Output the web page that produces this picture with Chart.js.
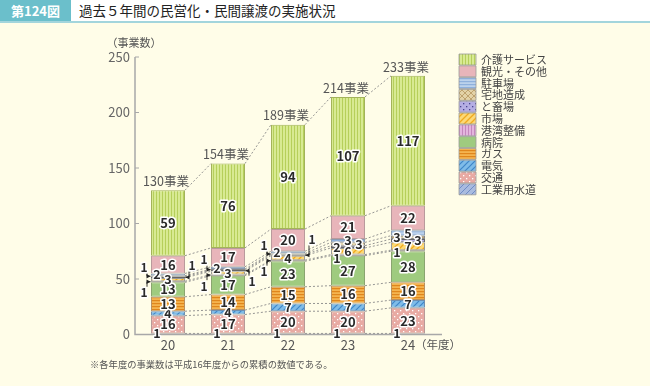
<!DOCTYPE html>
<html><head><meta charset="utf-8">
<script src="https://cdn.jsdelivr.net/npm/chart.js@4.4.0/dist/chart.umd.min.js"></script>
<style>
html,body{margin:0;padding:0;background:#fffde8;width:650px;height:386px;overflow:hidden;font-family:"Noto Sans CJK JP",sans-serif;}
#hdr{position:absolute;left:0;top:0;width:650px;height:21px;background:#ffffff;border-bottom:2px solid #a3d5dc;}
#num{position:absolute;left:0;top:0;width:71px;height:21px;background:#6bbfcb;color:#fff;font-weight:bold;font-size:13px;line-height:21px;text-align:center;}
#ttl{position:absolute;left:79px;top:0;height:21px;line-height:21px;font-size:13.5px;color:#222;}
#note{position:absolute;left:90px;top:357px;font-size:9.3px;color:#555;white-space:nowrap}
#wrap{position:absolute;left:0;top:0;width:650px;height:386px}
</style></head>
<body>
<div id="wrap"><canvas id="c" width="650" height="386"></canvas></div>
<div id="hdr"><div id="num">第124図</div><div id="ttl">過去５年間の民営化・民間譲渡の実施状況</div></div>
<div id="note">※各年度の事業数は平成16年度からの累積の数値である。</div>
<script>
// ---- data ----
const years = ['20','21','22','23','24'];
const seriesNames = ['工業用水道','交通','電気','ガス','病院','港湾整備','市場','と畜場','宅地造成','駐車場','観光・その他','介護サービス'];
const kogyo    = [1,1,1,1,1];
const kotsu    = [16,17,20,20,23];
const denki    = [4,4,7,7,7];
const gas      = [13,14,15,16,16];
const byoin    = [13,17,23,27,28];
const kowan    = [1,1,1,1,1];
const ichiba   = [3,3,4,6,7];
const tochiku  = [1,1,1,2,3];
const takuchi  = [1,1,1,3,3];
const chushajo = [2,2,2,3,5];
const kanko    = [16,17,20,21,22];
const kaigo    = [59,76,94,107,117];
const yTicks   = [0,50,100,150,200,250];
const seriesValues = [kogyo,kotsu,denki,gas,byoin,kowan,ichiba,tochiku,takuchi,chushajo,kanko,kaigo];

const FONT = '"Noto Sans CJK JP", sans-serif';

// ---- patterns (style) ----
function pat(bg, fn){
  const c=document.createElement('canvas'); c.width=6; c.height=6;
  const x=c.getContext('2d'); x.fillStyle=bg; x.fillRect(0,0,6,6); fn(x);
  return x.createPattern(c,'repeat');
}
const vstripe=(fg)=>x=>{x.fillStyle=fg;x.fillRect(0,0,1,6);x.fillRect(3,0,1,6);};
const hstripe=(fg)=>x=>{x.fillStyle=fg;x.fillRect(0,0,6,1.2);x.fillRect(0,3,6,1.2);};
const diag=(fg,w)=>x=>{x.strokeStyle=fg;x.lineWidth=w||1;x.beginPath();
  x.moveTo(-1,7);x.lineTo(7,-1);x.moveTo(-4,4);x.lineTo(4,-4);x.moveTo(2,10);x.lineTo(10,2);x.stroke();};
const cross=(fg)=>x=>{diag(fg,0.8)(x);x.strokeStyle=fg;x.lineWidth=0.8;x.beginPath();
  x.moveTo(-1,-1);x.lineTo(7,7);x.moveTo(-4,2);x.lineTo(4,10);x.moveTo(2,-4);x.lineTo(10,4);x.stroke();};
const dots=(fg)=>x=>{x.fillStyle=fg;x.fillRect(1,1,1.3,1.3);x.fillRect(4,4,1.3,1.3);};

const fills = [
  pat('#a9bbdf', diag('#6f8cc6')),          // 工業用水道
  pat('#e8aaa3', dots('#ffffff')),           // 交通
  pat('#7fbce8', diag('#3f86c8',1.2)),       // 電気
  pat('#f4b450', hstripe('#e0861c')),        // ガス
  '#9fcb7f',                                  // 病院
  pat('#e3b5dd', vstripe('#c587bd')),        // 港湾整備
  pat('#fcd977', diag('#f0a91e',1.3)),       // 市場
  pat('#b5aee3', dots('#4a4490')),           // と畜場
  pat('#e3d2a6', cross('#b5965e')),          // 宅地造成
  pat('#bcd2ec', hstripe('#8eb0dc')),        // 駐車場
  '#e8b5ba',                                  // 観光・その他
  pat('#d8ea93', vstripe('#b6cf5b'))         // 介護サービス
];
const borders = ['#7e7e8e','#b89a98','#6f8fb0','#b99060','#8aa570','#777','#999','#666','#888','#8b9bb0','#b99a9c','#a3b35a'];

const datasets = seriesValues.map((v,i)=>({
  label: seriesNames[i], data: v, backgroundColor: fills[i],
  borderColor: borders[i], borderWidth: 1, borderSkipped: false,
  barPercentage: 34/60, categoryPercentage: 1
}));

// label placement (layout only)
const shifts = {'3-5':[-11,3],'4-5':[-11,2],'3-8':[11,0],'4-8':[-11,0],'3-7':[-11,0],'4-7':[10,0],
                '0-9':[-11,0],'1-9':[-11,0],'2-9':[-11,0]};
const callouts = {'0-5':{s:'L',dy:11},'1-5':{s:'L',dy:11},'2-5':{s:'L',dy:11},
                  '0-8':{s:'L',dy:-9},'1-8':{s:'L',dy:-10},'2-8':{s:'L',dy:-9},
                  '0-7':{s:'R',dy:-12},'1-7':{s:'R',dy:11},'2-7':{s:'R',dy:-16}};

function drawNum(ctx, t, x, y, size){
  ctx.font = `bold ${size||12.5}px ${FONT}`;
  ctx.textAlign='center'; ctx.textBaseline='middle';
  ctx.lineJoin='round'; ctx.strokeStyle='#fff'; ctx.lineWidth=3;
  ctx.strokeText(t,x,y); ctx.fillStyle='#2a2a2a'; ctx.fillText(t,x,y);
}

const overlay = {
  id:'overlay',
  afterDatasetsDraw(chart){
    const ctx=chart.ctx, ys=chart.scales.y, ca=chart.chartArea;
    const bars = years.map((_,i)=>{
      const el = chart.getDatasetMeta(0).data[i];
      return {x:el.x, l:el.x-el.width/2, r:el.x+el.width/2};
    });
    // connecting dotted lines
    ctx.save(); ctx.setLineDash([2,2]); ctx.strokeStyle='#8a8a8a'; ctx.lineWidth=0.9;
    for(let k=0;k<=seriesValues.length;k++){
      for(let i=0;i<years.length-1;i++){
        let c1=0,c2=0; for(let d=0;d<k;d++){c1+=seriesValues[d][i];c2+=seriesValues[d][i+1];}
        ctx.beginPath(); ctx.moveTo(bars[i].r, ys.getPixelForValue(c1));
        ctx.lineTo(bars[i+1].l, ys.getPixelForValue(c2)); ctx.stroke();
      }
    }
    ctx.restore();
    // axes
    ctx.save(); ctx.strokeStyle='#a8a8a8'; ctx.lineWidth=1.5;
    ctx.beginPath(); ctx.moveTo(135, ca.top); ctx.lineTo(135, ca.bottom); ctx.lineTo(442, ca.bottom); ctx.stroke();
    ctx.lineWidth=1;
    yTicks.forEach(v=>{const y=ys.getPixelForValue(v); ctx.beginPath(); ctx.moveTo(135,y); ctx.lineTo(139,y); ctx.stroke();});
    ctx.restore();
    // segment labels
    ctx.save();
    years.forEach((_,i)=>{
      let cum=0;
      seriesValues.forEach((vals,d)=>{
        const v=vals[i]; const yc=ys.getPixelForValue(cum+v/2); cum+=v;
        const key=i+'-'+d;
        if(callouts[key]){
          const co=callouts[key];
          const lx = co.s==='L'? bars[i].l-7 : bars[i].r+7;
          const ly = yc+co.dy;
          const vx = co.s==='L'? lx+3 : lx-3;
          const ex = co.s==='L'? bars[i].l-0.5 : bars[i].r+0.5;
          ctx.strokeStyle='#222'; ctx.lineWidth=0.9; ctx.setLineDash([]);
          ctx.beginPath(); ctx.moveTo(vx, ly+(co.dy<0?6:-6)); ctx.lineTo(vx, yc); ctx.lineTo(ex, yc); ctx.stroke();
          const dir = co.s==='L'?1:-1;
          ctx.fillStyle='#222'; ctx.beginPath(); ctx.moveTo(ex,yc); ctx.lineTo(ex-4*dir,yc-2.2); ctx.lineTo(ex-4*dir,yc+2.2); ctx.closePath(); ctx.fill();
          drawNum(ctx, String(v), lx, ly, 12);
          return;
        }
        let dx=0, dy=0;
        if(d===0){dx=-11; dy=-1;}
        if(shifts[key]){dx=shifts[key][0]; dy=shifts[key][1];}
        drawNum(ctx, String(v), bars[i].x+dx, yc+dy, v>=10?13:12.5);
      });
      // totals
      const top = ys.getPixelForValue(cum);
      ctx.font=`12.5px ${FONT}`; ctx.fillStyle='#555'; ctx.textAlign='center'; ctx.textBaseline='middle';
      ctx.fillText(cum+'事業', bars[i].x-2, top-9);
    });
    // axis titles
    ctx.font=`11px ${FONT}`; ctx.fillStyle='#555'; ctx.textAlign='center';
    ctx.fillText('（事業数）', 134, 43);
    ctx.font=`11.5px ${FONT}`; ctx.textAlign='left';
    ctx.fillText('（年度）', 415, 345);
    // legend
    const lx=459, lw=17, top0=54, pitch=11.8;
    for(let k=0;k<seriesNames.length;k++){
      const d=seriesNames.length-1-k;
      const y=top0+k*pitch;
      ctx.fillStyle=fills[d]; ctx.fillRect(lx,y,lw,pitch-0.8);
      ctx.strokeStyle='#9a9a9a'; ctx.lineWidth=0.8; ctx.strokeRect(lx,y,lw,pitch-0.8);
      ctx.font=`11px ${FONT}`; ctx.fillStyle='#444'; ctx.textAlign='left'; ctx.textBaseline='middle';
      ctx.fillText(seriesNames[d], 481, y+pitch/2);
    }
    ctx.restore();
  }
};

new Chart(document.getElementById('c'), {
  type:'bar',
  data:{labels:years, datasets},
  options:{
    responsive:false, animation:false, events:[],
    layout:{padding:{left:0,right:212,top:57,bottom:0}},
    plugins:{legend:{display:false}, tooltip:{enabled:false}},
    scales:{
      x:{stacked:true, grid:{display:false, drawTicks:false}, border:{display:false},
         ticks:{color:'#555', font:{size:13, family:FONT}, padding:3},
         afterFit(s){s.height=51.5;}},
      y:{stacked:true, min:0, max:250, grid:{display:false, drawTicks:false}, border:{display:false},
         ticks:{stepSize:50, color:'#666', font:{size:13, family:FONT}, padding:8},
         afterFit(s){s.width=138;}}
    }
  },
  plugins:[overlay]
});
</script>
</body></html>
